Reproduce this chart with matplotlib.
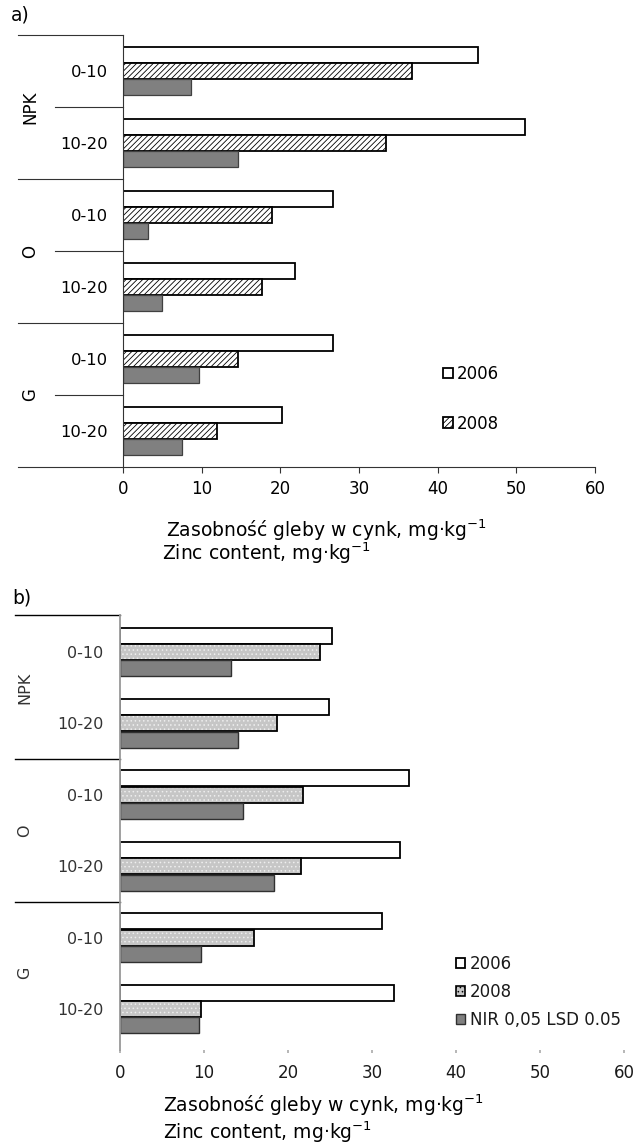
import matplotlib
matplotlib.use('Agg')
import matplotlib.pyplot as plt
from matplotlib.patches import Patch
from matplotlib.transforms import blended_transform_factory
import numpy as np

plt.rcParams['font.family'] = ['DejaVu Sans']
plt.rcParams['hatch.linewidth'] = 0.6

# ---------------- data ----------------
groups = ['NPK', 'O', 'G']
depths = ['0-10', '10-20', '0-10', '10-20', '0-10', '10-20']
xticks = [0, 10, 20, 30, 40, 50, 60]

a_2006 = [45.1, 51.1, 26.7, 21.9, 26.7, 20.2]
a_2008 = [36.7, 33.4, 19.0, 17.7, 14.6, 11.9]
a_nir = [8.6, 14.6, 3.2, 5.0, 9.7, 7.5]

b_2006 = [25.2, 24.9, 34.4, 33.3, 31.2, 32.6]
b_2008 = [23.8, 18.7, 21.8, 21.6, 15.9, 9.6]
b_nir = [13.2, 14.0, 14.6, 18.3, 9.7, 9.4]

legend_a = ['2006', '2008']
legend_b = ['2006', '2008', 'NIR 0,05 LSD 0.05']
xlabel_pl = 'Zasobność gleby w cynk, mg·kg$^{-1}$'
xlabel_en = 'Zinc content, mg·kg$^{-1}$'
panel_labels = ['a)', 'b)']

W, H = 635, 1143
fig = plt.figure(figsize=(W / 100, H / 100), dpi=100)


def fx(px):
    return px / W


def fy(py):
    return 1 - py / H


y = np.arange(len(depths))

# ---------------- panel a ----------------
axa = fig.add_axes([fx(123), fy(467), (595 - 123) / W, (467 - 35) / H])
axa.set_xlim(0, 60)
axa.set_ylim(5.5, -0.5)
h = 0.22
ba06 = axa.barh(y - h, a_2006, height=h, color='white', edgecolor='black', lw=1.3)
ba08 = axa.barh(y, a_2008, height=h, color='white', edgecolor='black', lw=1.3, hatch='//////')
banir = axa.barh(y + h, a_nir, height=h, color='#808080', edgecolor='#404040', lw=0.9)

for s in ['top', 'right']:
    axa.spines[s].set_visible(False)
axa.spines['left'].set_color('#333333')
axa.spines['left'].set_linewidth(0.8)
axa.spines['bottom'].set_color('#333333')
axa.spines['bottom'].set_linewidth(0.8)
axa.set_xticks(xticks)
axa.tick_params(axis='x', length=4.5, width=0.8, color='#333333', pad=5, labelsize=12)
axa.set_yticks(y)
axa.set_yticklabels(depths)
axa.tick_params(axis='y', length=0, pad=11, labelsize=11.8)

tra = blended_transform_factory(axa.transAxes, axa.transData)
xl_full = (18 - 123) / 472
xl_mid = (55 - 123) / 472
for yy in [-0.5, 1.5, 3.5, 5.5]:
    axa.plot([xl_full, 0], [yy, yy], transform=tra, color='#333333', lw=0.8, clip_on=False)
for yy in [0.5, 2.5, 4.5]:
    axa.plot([xl_mid, 0], [yy, yy], transform=tra, color='#333333', lw=0.8, clip_on=False)
for i, g in enumerate(groups):
    axa.text((30 - 123) / 472, 2 * i + 0.5, g, transform=tra, rotation=90,
             ha='center', va='center', fontsize=12)

axa.legend(handles=[ba06, ba08], labels=legend_a, loc='upper left',
           bbox_to_anchor=(fx(443), fy(365)), bbox_transform=fig.transFigure,
           frameon=False, handlelength=0.6, handleheight=0.6, handletextpad=0.25,
           labelspacing=1.9, borderpad=0, borderaxespad=0, fontsize=12)

fig.text(fx(11), fy(15), panel_labels[0], ha='left', va='center', fontsize=13.5)
fig.text(fx(166), fy(530), xlabel_pl, ha='left', va='center', fontsize=13.5)
fig.text(fx(162), fy(553), xlabel_en, ha='left', va='center', fontsize=13.5)

# ---------------- panel b ----------------
axb = fig.add_axes([fx(120), fy(1050), (624 - 120) / W, (1050 - 615) / H])
axb.set_xlim(0, 60)
axb.set_ylim(5.574, -0.518)
hb = 0.225
off = 0.23
bb06 = axb.barh(y - off, b_2006, height=hb, color='white', edgecolor='black', lw=1.3)
axb.barh(y, b_2008, height=hb, color='#c6c6c6', edgecolor='#eeeeee', lw=0, hatch='....')
bb08 = axb.barh(y, b_2008, height=hb, fill=False, edgecolor='black', lw=1.3)
bbnir = axb.barh(y + off, b_nir, height=hb, color='#808080', edgecolor='#303030', lw=1.0)

for s in ['top', 'right', 'bottom']:
    axb.spines[s].set_visible(False)
axb.spines['left'].set_color('#999999')
axb.spines['left'].set_linewidth(1.3)
axb.set_xticks(xticks)
axb.tick_params(axis='x', length=2, width=1.2, color='#aaaaaa', pad=8, labelsize=12,
                labelcolor='#1a1a1a')
axb.set_yticks(y)
axb.set_yticklabels(depths)
axb.tick_params(axis='y', length=0, pad=12, labelsize=11.5, labelcolor='#333333')

trb = blended_transform_factory(axb.transAxes, axb.transData)
xb_full = (15 - 120) / 504
for yy in [-0.518, 1.5, 3.5]:
    axb.plot([xb_full, 0], [yy, yy], transform=trb, color='black', lw=1.0, clip_on=False)
for i, g in enumerate(groups):
    axb.text((25 - 120) / 504, 2 * i + 0.5, g, transform=trb, rotation=90,
             ha='center', va='center', fontsize=11.5, color='#333333')

p08 = Patch(facecolor='#c6c6c6', edgecolor='black', hatch='....', lw=1.2)
axb.legend(handles=[bb06[0], p08, bbnir[0]], labels=legend_b, loc='upper left',
           bbox_to_anchor=(fx(456), fy(955)), bbox_transform=fig.transFigure,
           frameon=False, handlelength=0.55, handleheight=0.55, handletextpad=0.3,
           labelspacing=0.6, borderpad=0, borderaxespad=0, fontsize=12,
           labelcolor='#1a1a1a')

fig.text(fx(12), fy(598), panel_labels[1], ha='left', va='center', fontsize=13.5)
fig.text(fx(163), fy(1105), xlabel_pl, ha='left', va='center', fontsize=13.5)
fig.text(fx(163), fy(1132), xlabel_en, ha='left', va='center', fontsize=13.5)

fig.savefig('out.png', dpi=100)
